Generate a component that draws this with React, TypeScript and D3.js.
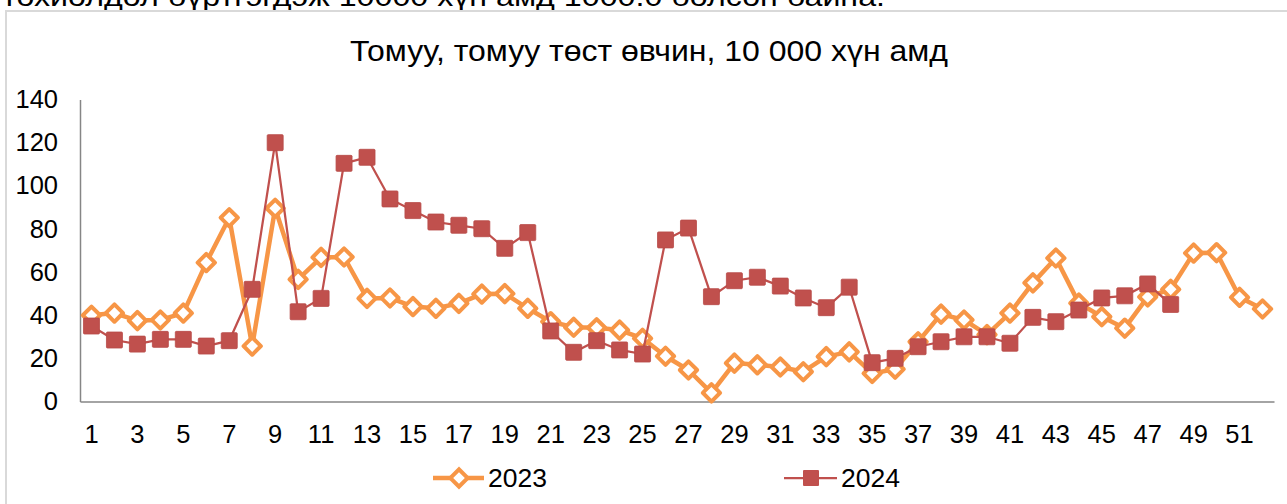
import React, { useEffect, useRef } from 'react';
import * as d3 from 'd3';

const weeks = d3.range(1, 53).map(String);
const tickWeeks = d3.range(1, 53, 2).map(String);
const yTicks = [0, 20, 40, 60, 80, 100, 120, 140];

const values2023 = [
  40, 41, 37.5, 37.8, 41, 64.4, 85.2, 25.7, 89.6, 56.6,
  66.8, 67, 47.8, 48, 44, 43.2, 45.5, 49.8, 50, 43.2,
  37, 34.4, 34.2, 33.1, 29.3, 21, 14.6, 4, 17.8, 17,
  16, 13.8, 20.8, 23, 13, 15, 27.7, 40.5, 37.8, 31,
  41, 55, 66.5, 45.6, 39.3, 34, 48.5, 52, 68.8, 69,
  48.3, 42.9,
];

const values2024 = [
  35, 28.5, 26.6, 28.8, 28.8, 25.7, 28.2, 52, 120, 41.6,
  47.8, 110.4, 113.2, 93.9, 88.5, 83.2, 81.7, 80.1, 71, 78.3,
  32.7, 22.8, 28.2, 23.9, 22, 74.9, 80.4, 48.6, 56, 57.6,
  53.5, 48, 43.5, 53, 18, 20, 25.4, 27.7, 30, 30,
  27, 39, 37, 42.4, 48, 49, 54.5, 45,
];

const seriesNames = ['2023', '2024'];
const title = 'Томуу, томуу төст өвчин, 10 000 хүн амд';
const topText = 'тохиолдол бүртгэгдэж  10000 хүн амд 1000.0 болсон байна.';

const ORANGE = '#F79646';
const RED = '#C0504D';
const FONT = 'Arial, "Liberation Sans", sans-serif';
const TICK_SIZE = 25.5;
const SQ = 16;

const App = () => {
  const svgRef = useRef<SVGSVGElement>(null);

  useEffect(() => {
    const svg = d3.select(svgRef.current);
    svg.selectAll('*').remove();
    const width = 1287;
    const height = 504;
    const margin = { top: 99.5, right: 13, bottom: 102.5, left: 80 };

    svg.append('rect').attr('width', width).attr('height', height).attr('fill', '#fff');

    // text from the page above the chart, cut off at the top
    svg.append('text')
      .attr('x', 2)
      .attr('y', 6)
      .attr('font-family', FONT)
      .attr('font-size', 27)
      .attr('textLength', 883)
      .attr('lengthAdjust', 'spacingAndGlyphs')
      .text(topText);

    // chart frame
    svg.append('rect')
      .attr('x', 6)
      .attr('y', 11)
      .attr('width', 1290)
      .attr('height', 510)
      .attr('fill', '#fff')
      .attr('stroke', '#d9d9d9')
      .attr('stroke-width', 2);

    svg.append('text')
      .attr('x', 649)
      .attr('y', 61)
      .attr('text-anchor', 'middle')
      .attr('font-family', FONT)
      .attr('font-size', 30)
      .attr('textLength', 598)
      .attr('lengthAdjust', 'spacingAndGlyphs')
      .text(title);

    const x = d3.scaleBand()
      .domain(weeks)
      .range([margin.left, width - margin.right]);

    const y = d3.scaleLinear()
      .domain([0, 140])
      .range([height - margin.bottom, margin.top]);

    const cx = (i: number) => (x(weeks[i]) as number) + x.bandwidth() / 2;

    // y axis
    const yAxis = svg.append('g')
      .attr('transform', `translate(${margin.left},0)`)
      .call(d3.axisLeft(y).tickValues(yTicks).tickSize(0).tickPadding(22));
    yAxis.select('.domain').attr('stroke', '#868686').attr('stroke-width', 1.5);
    yAxis.selectAll('text').attr('font-family', FONT).attr('font-size', TICK_SIZE).attr('fill', '#000');

    // x axis
    const xAxis = svg.append('g')
      .attr('transform', `translate(0,${height - margin.bottom})`)
      .call(d3.axisBottom(x).tickValues(tickWeeks).tickSize(0).tickPadding(23).tickSizeOuter(0));
    xAxis.select('.domain').attr('stroke', '#868686').attr('stroke-width', 1.5);
    xAxis.selectAll('text').attr('font-family', FONT).attr('font-size', TICK_SIZE).attr('fill', '#000');

    const line = d3.line<number>()
      .x((d, i) => cx(i))
      .y((d) => y(d));

    // 2023
    svg.append('path')
      .datum(values2023)
      .attr('d', line)
      .attr('fill', 'none')
      .attr('stroke', ORANGE)
      .attr('stroke-width', 4.5)
      .attr('stroke-linejoin', 'round');

    const diamond = d3.symbol().type(d3.symbolSquare).size(150);
    svg.append('g')
      .selectAll('path')
      .data(values2023)
      .enter()
      .append('path')
      .attr('d', diamond)
      .attr('transform', (d, i) => `translate(${cx(i)},${y(d)}) rotate(45)`)
      .attr('fill', '#fff')
      .attr('stroke', ORANGE)
      .attr('stroke-width', 4)
      .attr('stroke-linejoin', 'round');

    // 2024
    svg.append('path')
      .datum(values2024)
      .attr('d', line)
      .attr('fill', 'none')
      .attr('stroke', RED)
      .attr('stroke-width', 2.25);

    svg.append('g')
      .selectAll('rect')
      .data(values2024)
      .enter()
      .append('rect')
      .attr('x', (d, i) => cx(i) - SQ / 2)
      .attr('y', (d) => y(d) - SQ / 2)
      .attr('width', SQ)
      .attr('height', SQ)
      .attr('rx', 1)
      .attr('fill', RED)
      .attr('stroke', '#b84a47')
      .attr('stroke-width', 0.8);

    // legend
    const ly = 478;
    const lg1 = svg.append('g');
    lg1.append('line').attr('x1', 433).attr('x2', 484).attr('y1', ly).attr('y2', ly)
      .attr('stroke', ORANGE).attr('stroke-width', 4.5);
    lg1.append('path').attr('d', diamond)
      .attr('transform', `translate(459,${ly}) rotate(45)`)
      .attr('fill', '#fff').attr('stroke', ORANGE).attr('stroke-width', 4);
    lg1.append('text').attr('x', 488).attr('y', ly + 9)
      .attr('font-family', FONT).attr('font-size', 26.5).text(seriesNames[0]);

    const lg2 = svg.append('g');
    lg2.append('line').attr('x1', 784).attr('x2', 837).attr('y1', ly).attr('y2', ly)
      .attr('stroke', RED).attr('stroke-width', 2.25);
    lg2.append('rect').attr('x', 811 - SQ / 2).attr('y', ly - SQ / 2).attr('width', SQ).attr('height', SQ)
      .attr('rx', 1).attr('fill', RED);
    lg2.append('text').attr('x', 841).attr('y', ly + 9)
      .attr('font-family', FONT).attr('font-size', 26.5).text(seriesNames[1]);
  }, []);

  return (
    <svg
      ref={svgRef}
      width={1287}
      height={504}
      style={{ position: 'absolute', left: 0, top: 0, display: 'block' }}
    />
  );
};

export default App;
